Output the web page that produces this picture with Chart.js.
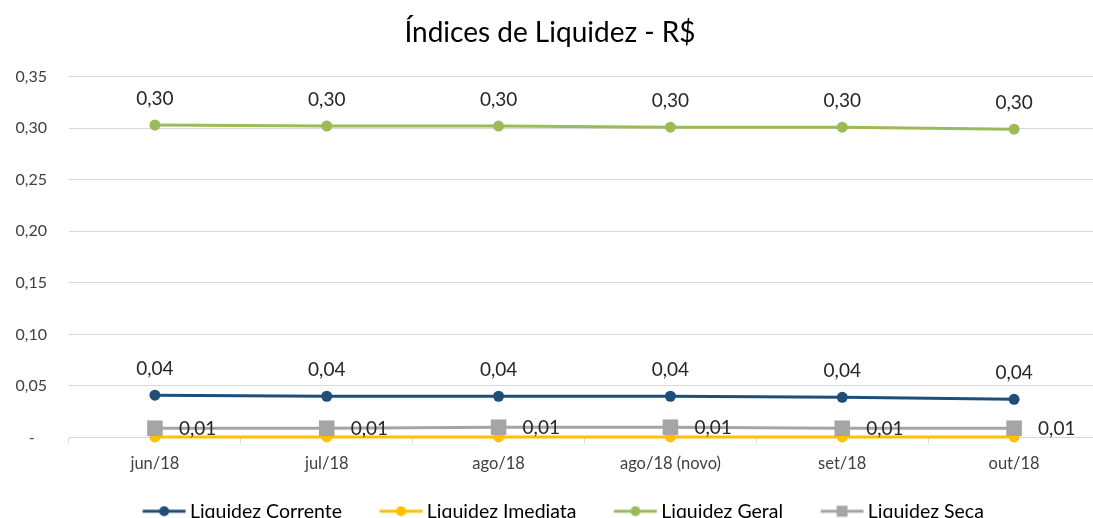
<!DOCTYPE html>
<html>
<head>
<meta charset="utf-8">
<script src="https://cdn.jsdelivr.net/npm/chart.js@4/dist/chart.umd.min.js"></script>
<style>
  html, body { margin: 0; padding: 0; background: #fff; overflow: hidden; }
  #wrap { width: 1100px; height: 531px; }
</style>
</head>
<body>
<div id="wrap"><canvas id="liqChart" width="1100" height="531"></canvas></div>
<script>
// Data
const categories = ['jun/18', 'jul/18', 'ago/18', 'ago/18 (novo)', 'set/18', 'out/18'];
const corrente = [0.041, 0.040, 0.040, 0.040, 0.039, 0.037];
const imediata = [0.0005, 0.0005, 0.0005, 0.0005, 0.0005, 0.0005];
const geral = [0.303, 0.302, 0.302, 0.301, 0.301, 0.299];
const seca = [0.009, 0.009, 0.010, 0.010, 0.009, 0.009];
const yTicks = [0, 0.05, 0.10, 0.15, 0.20, 0.25, 0.30, 0.35];

const FONT = 'Lato';

function fmt(v) {
  return v.toFixed(2).replace('.', ',');
}

// little line+marker icons for the legend (Excel style)
function legendIcon(color, square) {
  const c = document.createElement('canvas');
  c.width = 76;
  c.height = 16;
  const g = c.getContext('2d');
  const x0 = 32.5, x1 = 75.5, cy = 8;
  g.strokeStyle = color;
  g.lineWidth = 3;
  g.beginPath();
  g.moveTo(x0, cy);
  g.lineTo(x1, cy);
  g.stroke();
  g.fillStyle = color;
  const mx = (x0 + x1) / 2;
  if (square) {
    g.fillRect(mx - 5.5, cy - 5.5, 11, 11);
  } else {
    g.beginPath();
    g.arc(mx, cy, 5, 0, Math.PI * 2);
    g.fill();
  }
  return c;
}

// draws the value labels next to the points
const valueLabels = {
  id: 'valueLabels',
  afterDatasetsDraw(chart) {
    const ctx = chart.ctx;
    ctx.save();
    ctx.font = '19px ' + FONT;
    ctx.fillStyle = '#262626';
    ctx.textBaseline = 'middle';
    chart.data.datasets.forEach((ds, i) => {
      if (!ds.labelPos) return;
      const meta = chart.getDatasetMeta(i);
      meta.data.forEach((pt, j) => {
        const txt = fmt(ds.data[j]);
        if (ds.labelPos === 'top') {
          ctx.textAlign = 'center';
          ctx.fillText(txt, pt.x, pt.y - 26);
        } else {
          ctx.textAlign = 'left';
          ctx.fillText(txt, pt.x + 24, pt.y + 1);
        }
      });
    });
    ctx.restore();
  }
};

const colors = ['#1f4e79', '#ffc000', '#9bbb59', '#a5a5a5'];
const icons = [
  legendIcon(colors[0], false),
  legendIcon(colors[1], false),
  legendIcon(colors[2], false),
  legendIcon(colors[3], true)
];

function lineSet(label, data, color, extra) {
  return Object.assign({
    label: label,
    data: data,
    borderColor: color,
    backgroundColor: color,
    pointBackgroundColor: color,
    pointBorderColor: color,
    borderWidth: 3,
    pointRadius: 5.5,
    pointBorderWidth: 0,
    tension: 0,
    clip: false,
    order: 1
  }, extra || {});
}

const ctx = document.getElementById('liqChart').getContext('2d');
const liqChart = new Chart(ctx, {
  type: 'line',
  data: {
    labels: categories,
    datasets: [
      lineSet('Liquidez Corrente', corrente, colors[0], { labelPos: 'top' }),
      lineSet('Liquidez Imediata', imediata, colors[1]),
      lineSet('Liquidez Geral', geral, colors[2], { labelPos: 'top' }),
      lineSet('Liquidez Seca', seca, colors[3], { labelPos: 'right', pointStyle: 'rect', pointRadius: 11, order: 0 })
    ]
  },
  options: {
    responsive: false,
    animation: false,
    devicePixelRatio: 1,
    layout: { padding: 0, autoPadding: false },
    plugins: {
      title: {
        display: true,
        text: 'Índices de Liquidez - R$',
        color: '#000',
        font: { family: FONT, size: 28, weight: 'normal' },
        padding: { top: 16, bottom: 27 }
      },
      legend: {
        position: 'bottom',
        labels: {
          usePointStyle: true,
          pointStyleWidth: 64,
          padding: 11,
          color: '#000',
          font: { family: FONT, size: 19.5 },
          sort: (a, b) => a.datasetIndex - b.datasetIndex,
          generateLabels: function (chart) {
            const items = Chart.defaults.plugins.legend.labels.generateLabels(chart);
            items.forEach(it => { it.pointStyle = icons[it.datasetIndex]; });
            return items;
          }
        }
      },
      tooltip: { enabled: false }
    },
    scales: {
      x: {
        offset: true,
        grid: {
          offset: true,
          drawOnChartArea: false,
          drawTicks: true,
          tickLength: 6,
          color: '#d9d9d9'
        },
        border: { color: '#d9d9d9' },
        ticks: {
          padding: 10,
          color: '#404040',
          font: { family: FONT, size: 16.5 },
          maxRotation: 0
        },
        afterFit: function (scale) {
          scale.height = 53;
          scale.paddingLeft = 0;
          scale.paddingRight = 0;
        }
      },
      y: {
        min: 0,
        max: 0.35,
        afterBuildTicks: function (scale) {
          scale.ticks = yTicks.map(v => ({ value: v }));
        },
        grid: { color: '#d9d9d9', drawTicks: false },
        border: { display: false },
        ticks: {
          padding: 22,
          color: '#404040',
          font: { family: FONT, size: 16 },
          callback: function (v) { return v === 0 ? '-   ' : fmt(v); }
        },
        afterFit: function (scale) { scale.width = 69; }
      }
    }
  },
  plugins: [valueLabels]
});
</script>
</body>
</html>
